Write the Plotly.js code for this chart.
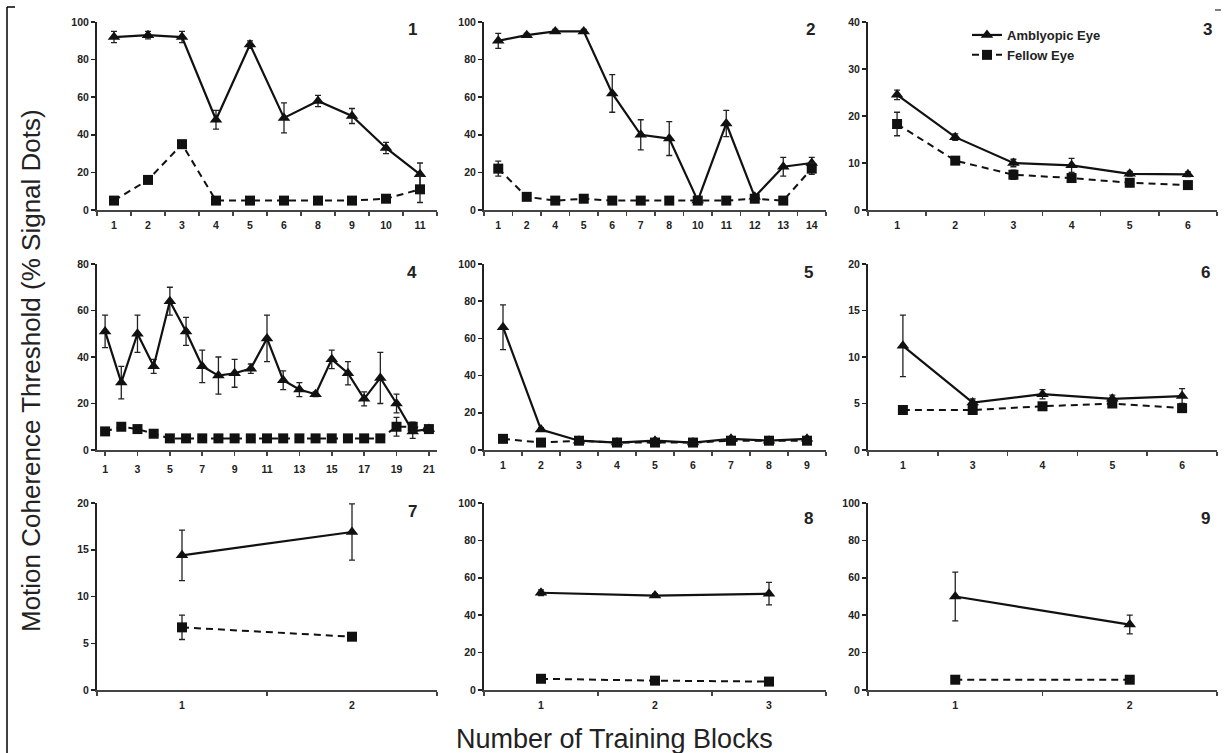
<!DOCTYPE html>
<html><head><meta charset="utf-8">
<script src="https://cdn.plot.ly/plotly-3.0.1.min.js"></script>
<style>html,body{margin:0;padding:0;background:#fff}#chart{width:1224px;height:753px}</style>
</head><body><div id="chart"></div>
<script>
// Panel 1
const p1_x = ['1','2','3','4','5','6','8','9','10','11'];
const p1_amb = [92,93,92,48,88,49,58,50,33,19];
const p1_amb_err = [3,2,3,5,2,8,3,4,3,6];
const p1_fel = [5,16,35,5,5,5,5,5,6,11];
const p1_fel_err = [0,1,2,0,0,0,0,0,0,7];
// Panel 2
const p2_x = ['1','2','4','5','6','7','8','10','11','12','13','14'];
const p2_amb = [90,93,95,95,62,40,38,5,46,7,23,25];
const p2_amb_err = [4,1,1,1,10,8,9,1,7,1,5,3];
const p2_fel = [22,7,5,6,5,5,5,5,5,6,5,22];
const p2_fel_err = [4,1,0,0,0,0,0,0,0,0,0,3];
// Panel 3
const p3_x = ['1','2','3','4','5','6'];
const p3_amb = [24.5,15.5,10,9.5,7.7,7.6];
const p3_amb_err = [1,0.7,0.8,1.5,0.5,0.5];
const p3_fel = [18.3,10.5,7.5,6.8,5.8,5.3];
const p3_fel_err = [2.5,0.5,1,0.7,0.8,0.8];
// Panel 4
const p4_x = ['1','2','3','4','5','6','7','8','9','10','11','12','13','14','15','16','17','18','19','20','21'];
const p4_ticks = ['1','3','5','7','9','11','13','15','17','19','21'];
const p4_amb = [51,29,50,36,64,51,36,32,33,35,48,30,26,24,39,33,22,31,20,8,9];
const p4_amb_err = [7,7,8,3,6,6,7,8,6,2,10,4,3,1,4,5,3,11,4,3,1];
const p4_fel = [8,10,9,7,5,5,5,5,5,5,5,5,5,5,5,5,5,5,10,10,9];
const p4_fel_err = [0,0,0,0,0,0,0,0,0,0,0,0,0,0,0,0,0,0,4,2,1];
// Panel 5
const p5_x = ['1','2','3','4','5','6','7','8','9'];
const p5_amb = [66,11,5,4,5,4,6,5,6];
const p5_amb_err = [12,1,1,1,1,1,1,1,1];
const p5_fel = [6,4,5,4,4,4,5,5,5];
const p5_fel_err = [0,0,0,0,0,0,0,0,0];
// Panel 6
const p6_x = ['1','3','4','5','6'];
const p6_amb = [11.2,5.1,6.0,5.5,5.8];
const p6_amb_err = [3.3,0.4,0.5,0.4,0.8];
const p6_fel = [4.3,4.3,4.7,5.0,4.5];
const p6_fel_err = [0,0,0,0,0];
// Panel 7
const p7_x = ['1','2'];
const p7_amb = [14.4,16.9];
const p7_amb_err = [2.7,3];
const p7_fel = [6.7,5.7];
const p7_fel_err = [1.3,0];
// Panel 8
const p8_x = ['1','2','3'];
const p8_amb = [52,50.5,51.5];
const p8_amb_err = [1.5,1,6];
const p8_fel = [6,5,4.5];
const p8_fel_err = [0,0,0];
// Panel 9
const p9_x = ['1','2'];
const p9_amb = [50,35];
const p9_amb_err = [13,5];
const p9_fel = [5.5,5.5];
const p9_fel_err = [0,0];

const yMax = [100,100,40,80,100,20,20,100,100];
const yDtick = [20,20,10,20,20,5,5,20,20];

const panels = [
  [p1_x,p1_amb,p1_amb_err,p1_fel,p1_fel_err,null],
  [p2_x,p2_amb,p2_amb_err,p2_fel,p2_fel_err,null],
  [p3_x,p3_amb,p3_amb_err,p3_fel,p3_fel_err,null],
  [p4_x,p4_amb,p4_amb_err,p4_fel,p4_fel_err,p4_ticks],
  [p5_x,p5_amb,p5_amb_err,p5_fel,p5_fel_err,null],
  [p6_x,p6_amb,p6_amb_err,p6_fel,p6_fel_err,null],
  [p7_x,p7_amb,p7_amb_err,p7_fel,p7_fel_err,null],
  [p8_x,p8_amb,p8_amb_err,p8_fel,p8_fel_err,null],
  [p9_x,p9_amb,p9_amb_err,p9_fel,p9_fel_err,null]
];

const W = 1224, H = 753;
const colPx = [[97,437],[484,826],[868,1217]];
const rowPx = [[22,210],[264,450],[503,690]];
const labelPos = [[412,30],[810,30],[1207,30],[412,272],[808,272],[1205,272],[412,512],[808,518],[1205,518]];

const font = 'Liberation Sans, Arial, sans-serif';
const data = [];
const layout = {
  width: W, height: H,
  margin: {l:0,r:0,t:0,b:0},
  paper_bgcolor: '#fff', plot_bgcolor: 'rgba(0,0,0,0)',
  font: {family: font, color: '#222'},
  showlegend: true,
  legend: {x: 967/W, y: 1-20/H, xanchor: 'left', yanchor: 'top', bgcolor: 'rgba(0,0,0,0)',
           font: {family: font, size: 13, color: '#222', weight: 'bold'}, tracegroupgap: 0, itemwidth: 30},
  annotations: [], shapes: []
};

panels.forEach((p, i) => {
  const r = Math.floor(i/3), c = i%3;
  const n = i+1;
  const xa = 'x' + (n===1?'':n), ya = 'y' + (n===1?'':n);
  const xk = 'xaxis' + (n===1?'':n), yk = 'yaxis' + (n===1?'':n);
  const [xs, amb, ambE, fel, felE, ticks] = p;
  data.push({
    x: xs, y: amb, xaxis: xa, yaxis: ya, type: 'scatter', mode: 'lines+markers',
    name: 'Amblyopic Eye', showlegend: i===0, legendrank: 1,
    line: {color: '#111', width: 2.2},
    marker: {symbol: 'triangle-up', size: 11, color: '#111'},
    error_y: {type: 'data', array: ambE, visible: true, color: '#222', thickness: 1.3, width: 3},
    cliponaxis: false
  });
  data.push({
    x: xs, y: fel, xaxis: xa, yaxis: ya, type: 'scatter', mode: 'lines+markers',
    name: 'Fellow Eye', showlegend: i===0, legendrank: 2,
    line: {color: '#111', width: 2, dash: '7px,5px'},
    marker: {symbol: 'square', size: 10, color: '#111'},
    error_y: {type: 'data', array: felE, visible: true, color: '#222', thickness: 1.3, width: 3},
    cliponaxis: false
  });
  layout[xk] = {
    type: 'category', domain: [colPx[c][0]/W, colPx[c][1]/W], anchor: ya,
    range: [-0.5, xs.length-0.5], showgrid: false, zeroline: false,
    showline: true, linecolor: '#444', linewidth: 2,
    ticks: 'outside', ticklen: 4, tickwidth: 1.5, tickcolor: '#444', tickson: 'boundaries',
    tickfont: {family: font, size: 10.5, color: '#222', weight: 'bold'}, ticklabelstandoff: 4,
    fixedrange: true
  };
  if (ticks) { layout[xk].tickvals = ticks; layout[xk].ticktext = ticks; layout[xk].tickson = 'labels'; }
  layout[yk] = {
    domain: [1-rowPx[r][1]/H, 1-rowPx[r][0]/H], anchor: xa,
    range: [0, yMax[i]], dtick: yDtick[i], showgrid: false, zeroline: false,
    showline: true, linecolor: '#222', linewidth: 2,
    ticks: 'outside', ticklen: 4, tickwidth: 1.5, tickcolor: '#222',
    tickfont: {family: font, size: 10.5, color: '#222', weight: 'bold'},
    fixedrange: true
  };
  layout.annotations.push({
    text: '<b>' + n + '</b>', xref: 'paper', yref: 'paper',
    x: labelPos[i][0]/W, y: 1-labelPos[i][1]/H, xanchor: 'center', yanchor: 'middle',
    showarrow: false, font: {family: font, size: 17, color: '#222'}
  });
});

layout.annotations.push({
  text: 'Motion Coherence Threshold (% Signal Dots)', xref: 'paper', yref: 'paper',
  x: 31/W, y: 1-371/H, textangle: -90, xanchor: 'center', yanchor: 'middle', showarrow: false,
  font: {family: font, size: 26, color: '#222'}
});
layout.annotations.push({
  text: 'Number of Training Blocks', xref: 'paper', yref: 'paper',
  x: 614/W, y: 1-739/H, xanchor: 'center', yanchor: 'middle', showarrow: false,
  font: {family: font, size: 27, color: '#222'}
});
layout.shapes.push({type: 'line', xref: 'paper', yref: 'paper', x0: 7/W, x1: 7/W, y0: 0, y1: 1-7/H, line: {color: '#000', width: 1.5}});
layout.shapes.push({type: 'line', xref: 'paper', yref: 'paper', x0: 7/W, x1: 15/W, y0: 1-7/H, y1: 1-7/H, line: {color: '#000', width: 1.5}});
layout.shapes.push({type: 'line', xref: 'paper', yref: 'paper', x0: 1215/W, x1: 1221/W, y0: 1-10/H, y1: 1-10/H, line: {color: '#000', width: 1}});

Plotly.newPlot('chart', data, layout, {staticPlot: true});
</script></body></html>
